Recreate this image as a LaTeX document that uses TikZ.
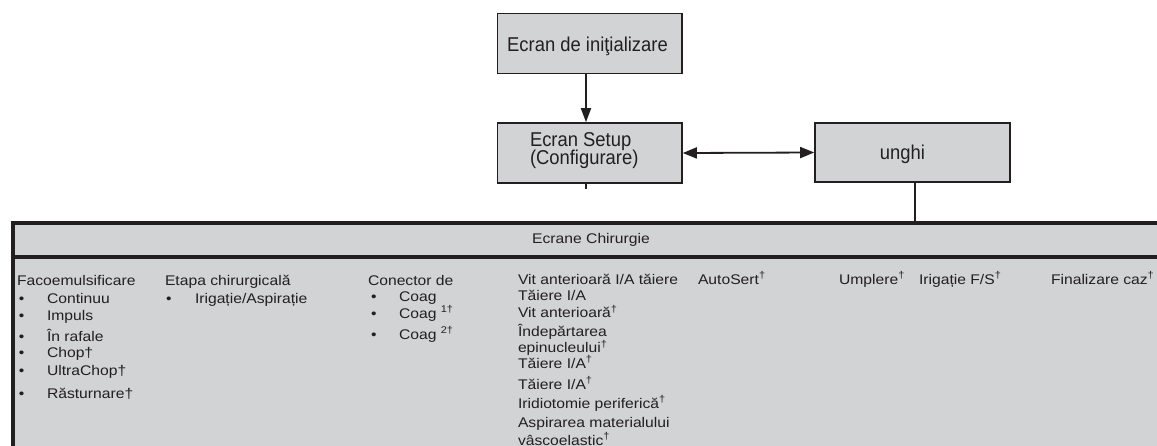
\documentclass[tikz,border=0pt]{standalone}
\usepackage{fontspec}
\setmainfont[FakeStretch=1.12]{Liberation Sans}
\newfontfamily\boxfont[FakeStretch=0.92]{Liberation Sans}
\usetikzlibrary{arrows.meta}
\definecolor{ink}{HTML}{231F20}
\definecolor{boxfill}{HTML}{D1D3D4}
\newcommand{\dg}{\textsuperscript{†}}
\begin{document}
\begin{tikzpicture}[x=1pt,y=-1pt,
  every node/.style={text=ink, font=\fontsize{14}{17}\selectfont},
  box/.style={draw=ink, fill=boxfill, line width=1.6pt, inner sep=0pt},
  boxtxt/.style={inner sep=0pt, outer sep=0pt, font=\boxfont\fontsize{20}{19}\selectfont},
  t/.style={anchor=base west, inner sep=0pt, outer sep=0pt},
  conn/.style={draw=ink, line width=1.8pt},
  arr/.style={conn, -{Triangle[length=14pt,width=10pt]}},
  darr/.style={conn, {Triangle[length=14pt,width=11pt]}-{Triangle[length=14pt,width=11pt]}}
]
\useasboundingbox (0,0) rectangle (1157,445);

% big surgery box
\begin{scope}
\clip (0,0) rectangle (1157,445);
\node[draw=ink, fill=boxfill, line width=3.6pt, anchor=north west, minimum width=1200pt, minimum height=260pt, inner sep=0pt] (surg) at (11.3,221.3) {};
\coordinate (sepL) at (11.3,257);
\coordinate (sepR) at (1170,257);
\draw[ink, line width=3.6pt] (sepL) -- (sepR);
\end{scope}

% top boxes
\node[box, minimum width=184.5pt, minimum height=60pt] (init) at (589.75,43.3) {};
\node[box, minimum width=184.5pt, minimum height=60pt] (setup) at (589.75,153) {};
\node[box, minimum width=195pt, minimum height=59pt] (unghi) at (912.5,152.5) {};
\node[boxtxt, anchor=base] (initt) at (587.5,51.7) {Ecran de iniţializare};
\node[boxtxt, anchor=base west] (setupt1) at (530,146.3) {Ecran Setup};
\node[boxtxt, anchor=base west] (setupt2) at (530,164.7) {(Configurare)};
\node[boxtxt, anchor=base] (unghit) at (902.5,159.7) {unghi};

\draw[arr] (init.south -| 586,0) -- (setup.north -| 586,0);
\coordinate (tick) at (586,188.5);
\draw[conn] (setup.south -| tick) -- (tick);
\draw[darr] (setup.east) -- (unghi.west);
\coordinate (surgtop) at (915,221);
\draw[ink, line width=2.6pt] (unghi.south -| surgtop) -- (surgtop);

% header
\node[anchor=base, inner sep=0pt] (hdr) at (591,243) {Ecrane Chirurgie};

% column 1
\node[t] (c1h) at (17,285) {Facoemulsificare};
\node[t] (c1b1) at (19,303) {•}; \node[t] (c1a) at (47,303) {Continuu};
\node[t] (c1b2) at (19,320) {•}; \node[t] (c1b) at (47,320) {Impuls};
\node[t] (c1b3) at (19,341) {•}; \node[t] (c1c) at (47,341) {În rafale};
\node[t] (c1b4) at (19,357.5) {•}; \node[t] (c1d) at (47,357.5) {Chop†};
\node[t] (c1b5) at (19,375.5) {•}; \node[t] (c1e) at (47,375.5) {UltraChop†};
\node[t] (c1b6) at (19,398) {•}; \node[t] (c1f) at (47,398) {Răsturnare†};

% column 2
\node[t] (c2h) at (165,285) {Etapa chirurgicală};
\node[t] (c2b1) at (166,303) {•}; \node[t] (c2a) at (195,303) {Irigație/Aspirație};

% column 3
\node[t] (c3h) at (368,285) {Conector de};
\node[t] (c3b1) at (371,301) {•}; \node[t] (c3a) at (399,301) {Coag};
\node[t] (c3b2) at (371,318) {•}; \node[t] (c3b) at (399,318) {Coag \textsuperscript{1†}};
\node[t] (c3b3) at (371,339) {•}; \node[t] (c3c) at (399,339) {Coag \textsuperscript{2†}};

% column 4
\node[t] (c4a) at (518,284) {Vit anterioară I/A tăiere};
\node[t] (c4b) at (518,300) {Tăiere I/A};
\node[t] (c4c) at (518,317.5) {Vit anterioară\dg};
\node[t] (c4d) at (518,336.5) {Îndepărtarea};
\node[t] (c4e) at (518,352.5) {epinucleului\dg};
\node[t] (c4f) at (518,368) {Tăiere I/A\dg};
\node[t] (c4g) at (518,389) {Tăiere I/A\dg};
\node[t] (c4h) at (518,408) {Iridiotomie periferică\dg};
\node[t] (c4i) at (518,427) {Aspirarea materialului};
\node[t] (c4j) at (518,445) {vâscoelastic\dg};

% other columns
\node[t] (c5) at (698,284) {AutoSert\dg};
\node[t] (c6) at (839,284) {Umplere\dg};
\node[t] (c7) at (919,284) {Irigație F/S\dg};
\node[t] (c8) at (1051,284) {Finalizare caz\dg};
\end{tikzpicture}
\end{document}
